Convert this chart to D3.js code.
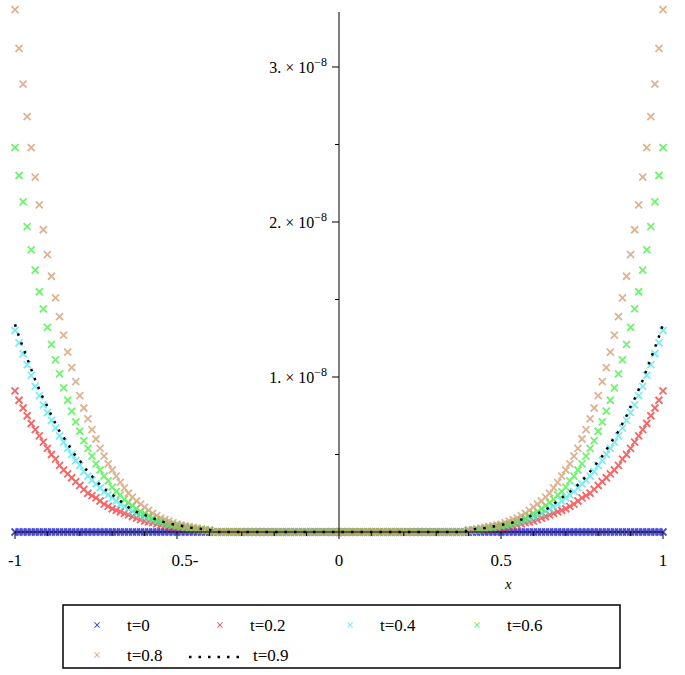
<!DOCTYPE html>
<html><head><meta charset="utf-8">
<script src="https://cdn.jsdelivr.net/npm/d3@7"></script>
<style>body{margin:0;background:#fff}text{font-family:"Liberation Serif",serif}</style>
</head><body><main></main>
<script>
// Data: |x| from 1 down to 0 in steps of 0.0125, values in units of 1e-9 (curves are symmetric)
const xs = d3.range(0, 81).map(i => +(1 - i * 0.0125).toFixed(4))
const zeros32 = Array(32).fill(0)
const t0 = Array(81).fill(0)
const t02 = [9.1, 8.5, 8.0, 7.5, 7.0, 6.6, 6.2, 5.8, 5.4, 5.0, 4.7, 4.3, 4.0, 3.75, 3.5, 3.25, 3.0, 2.75, 2.5, 2.35, 2.2, 2.0, 1.8, 1.65, 1.5, 1.4, 1.3, 1.2, 1.1, 1.0, 0.9, 0.8, 0.7, 0.65, 0.6, 0.52, 0.45, 0.4, 0.35, 0.3, 0.3, 0.25, 0.2, 0.17, 0.15, 0.12, 0.1, 0.1, 0.1].concat(zeros32)
const t04 = [13.0, 12.2, 11.5, 10.8, 10.1, 9.4, 8.8, 8.2, 7.7, 7.2, 6.7, 6.2, 5.8, 5.4, 5.0, 4.6, 4.3, 3.9, 3.6, 3.35, 3.1, 2.85, 2.6, 2.4, 2.2, 2.0, 1.8, 1.65, 1.5, 1.35, 1.2, 1.1, 1.0, 0.9, 0.8, 0.72, 0.65, 0.57, 0.5, 0.45, 0.4, 0.35, 0.3, 0.25, 0.2, 0.2, 0.15, 0.12, 0.1].concat(zeros32)
const t06 = [24.8, 23.0, 21.3, 19.7, 18.2, 16.9, 15.5, 14.4, 13.2, 12.1, 11.1, 10.2, 9.3, 8.5, 7.8, 7.1, 6.5, 5.9, 5.4, 4.9, 4.4, 4.0, 3.6, 3.3, 2.9, 2.6, 2.4, 2.1, 1.9, 1.7, 1.5, 1.3, 1.2, 1.05, 0.9, 0.8, 0.7, 0.6, 0.5, 0.45, 0.4, 0.35, 0.3, 0.25, 0.2, 0.15, 0.12, 0.1, 0.1].concat(zeros32)
const t08 = [33.7, 31.2, 28.9, 26.8, 24.8, 22.9, 21.1, 19.5, 17.9, 16.5, 15.1, 13.9, 12.7, 11.6, 10.6, 9.7, 8.8, 8.0, 7.3, 6.6, 6.0, 5.4, 4.9, 4.4, 4.0, 3.6, 3.2, 2.85, 2.5, 2.25, 2.0, 1.8, 1.6, 1.4, 1.2, 1.05, 0.9, 0.8, 0.7, 0.6, 0.5, 0.45, 0.4, 0.35, 0.3, 0.25, 0.2, 0.15, 0.1].concat(zeros32)
const t09 = [13.4, 12.6, 11.9, 11.2, 10.5, 9.8, 9.2, 8.6, 8.1, 7.5, 7.0, 6.5, 6.1, 5.7, 5.3, 4.9, 4.6, 4.2, 3.9, 3.6, 3.3, 3.05, 2.8, 2.6, 2.4, 2.2, 2.0, 1.8, 1.6, 1.45, 1.3, 1.2, 1.1, 1.0, 0.9, 0.8, 0.7, 0.62, 0.55, 0.5, 0.45, 0.4, 0.35, 0.3, 0.25, 0.22, 0.2, 0.17, 0.15].concat(zeros32)
const seriesNames = ['t=0', 't=0.2', 't=0.4', 't=0.6', 't=0.8', 't=0.9']
const seriesColors = ['#1010d0', '#f03535', '#50e8f0', '#40f040', '#d49a70', '#000000']
const xTicks = [-1, -0.5, 0, 0.5, 1]
const xTickLabels = ['-1', '0.5-', '0', '0.5', '1']
const yTicks = [1, 2, 3]

function GeneratePlot() {
    const W = 685, H = 675
    const x = d3.scaleLinear().domain([-1, 1]).range([15, 663])
    const y = d3.scaleLinear().domain([0, 30]).range([532, 67])

    const svg = d3.select('main').append('svg').attr('width', W).attr('height', H)

    const allSeries = [t0, t02, t04, t06, t08, t09]
    // both halves of each curve
    const pts = vals => xs.map((v, i) => [-v, vals[i]]).concat(xs.slice(0, -1).map((v, i) => [v, vals[i]]).reverse())

    // markers, later series on top
    const cross = 3.5
    allSeries.slice(0, 5).forEach((vals, k) => {
        const g = svg.append('g').attr('stroke', seriesColors[k]).attr('stroke-width', 1.8).attr('opacity', 0.75)
        g.selectAll('path').data(pts(vals)).enter().append('path')
            .attr('d', d => {
                const cx = x(d[0]), cy = y(d[1])
                return `M${cx - cross},${cy - cross}L${cx + cross},${cy + cross}M${cx - cross},${cy + cross}L${cx + cross},${cy - cross}`
            })
    })

    // t=0.9 dotted line
    svg.append('path').datum(pts(t09))
        .attr('d', d3.line().x(d => x(d[0])).y(d => y(d[1])).curve(d3.curveMonotoneX))
        .attr('fill', 'none').attr('stroke', '#000').attr('stroke-width', 2.5)
        .attr('stroke-dasharray', '2.5,7')

    // x axis
    svg.append('line').attr('x1', x(-1)).attr('x2', x(1)).attr('y1', y(0)).attr('y2', y(0)).attr('stroke', '#000')
    d3.range(-10, 11).forEach(i => {
        const major = i % 5 === 0
        svg.append('line').attr('x1', x(i / 10)).attr('x2', x(i / 10))
            .attr('y1', y(0)).attr('y2', y(0) + (major ? 7 : 4)).attr('stroke', '#000')
    })
    xTicks.forEach((v, i) => {
        svg.append('text').attr('x', x(v) + (i === 1 ? 8 : 0)).attr('y', 566)
            .attr('text-anchor', 'middle').attr('font-size', 17).text(xTickLabels[i])
    })
    svg.append('text').attr('x', 505).attr('y', 589).attr('font-style', 'italic').attr('font-size', 15).text('x')

    // y axis
    svg.append('line').attr('x1', x(0)).attr('x2', x(0)).attr('y1', 12).attr('y2', y(0)).attr('stroke', '#000')
    d3.range(1, 7).forEach(i => {
        svg.append('line').attr('x1', x(0) - (i % 2 === 0 ? 7 : 4)).attr('x2', x(0))
            .attr('y1', y(i * 5)).attr('y2', y(i * 5)).attr('stroke', '#000')
    })
    yTicks.forEach(v => {
        const t = svg.append('text').attr('x', x(0) - 12).attr('y', y(v * 10) + 6)
            .attr('text-anchor', 'end').attr('font-size', 16)
        t.append('tspan').text(`${v}. \u00d7 10`)
        t.append('tspan').attr('dy', -7).attr('font-size', 12).text('\u22128')
    })

    // legend
    svg.append('rect').attr('x', 63).attr('y', 605).attr('width', 557).attr('height', 63)
        .attr('fill', 'none').attr('stroke', '#000').attr('stroke-width', 1.5)
    const legPos = [[97, 625], [220, 625], [350, 625], [477, 625], [97, 655], [214, 655]]
    seriesNames.forEach((name, k) => {
        const [lx, ly] = legPos[k]
        if (k < 5) {
            svg.append('text').attr('x', lx).attr('y', ly + 5).attr('text-anchor', 'middle')
                .attr('font-size', 14).attr('fill', seriesColors[k]).attr('font-family', 'DejaVu Sans').text('\u00d7')
            svg.append('text').attr('x', lx + 30).attr('y', ly + 6).attr('font-size', 17).text(name)
        } else {
            svg.append('line').attr('x1', 189).attr('x2', 240).attr('y1', ly + 2).attr('y2', ly + 2)
                .attr('stroke', '#000').attr('stroke-width', 2.5).attr('stroke-dasharray', '2.5,7')
            svg.append('text').attr('x', 253).attr('y', ly + 6).attr('font-size', 17).text(name)
        }
    })
}
GeneratePlot()
</script></body></html>
